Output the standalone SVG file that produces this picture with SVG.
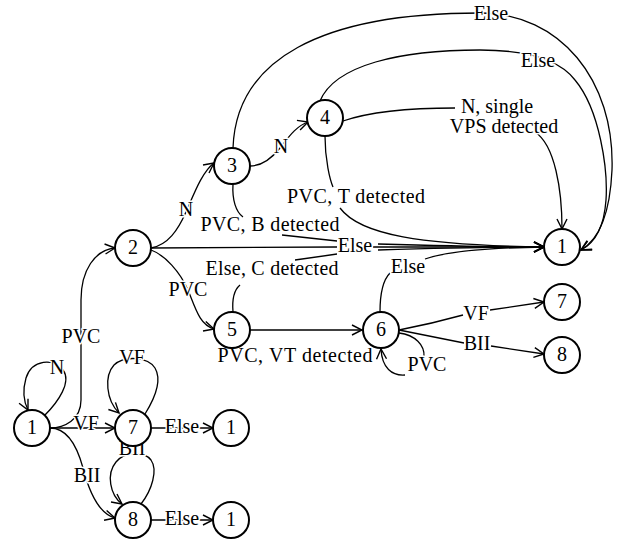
<svg xmlns="http://www.w3.org/2000/svg" width="627" height="541" viewBox="0 0 627 541">
<style>
  .node circle { fill: #fff; stroke: #000; stroke-width: 2; }
  .node text { font-family: "Liberation Serif", "Times New Roman", serif; font-size: 20px; text-anchor: middle; fill: #000; }
  .edges path { fill: none; stroke: #000; stroke-width: 1.3; }
  .lbl { font-family: "Liberation Serif", "Times New Roman", serif; font-size: 20px; text-anchor: middle; fill: #000; paint-order: stroke; stroke: #fff; stroke-width: 3px; stroke-linejoin: round; }
  .arr { marker-end: url(#ah); }
</style>
<defs>
  <marker id="ah" viewBox="0 0 12 12" refX="11" refY="6" markerWidth="12" markerHeight="12" markerUnits="userSpaceOnUse" orient="auto">
    <path d="M1,1 L11,6 L1,11" fill="none" stroke="#000" stroke-width="1.4"/>
  </marker>
</defs>

<g class="edges" id="connectors">
  <g id="e-1-1">
    <path class="arr" d="M45,415 C58,402 72,382 63,370 C54,358 32,359 26,378 C22,392 24,402 28,410"/>
    <text class="lbl" x="57" y="374">N</text>
  </g>
  <g id="e-1-2">
    <path class="arr" d="M50,428 C64,428 81,420 81,400 L81,300 C81,270 95,250 115,248"/>
    <text class="lbl" x="81" y="343">PVC</text>
  </g>
  <g id="e-1-7">
    <path class="arr" d="M50,428 L115,428"/>
    <text class="lbl" x="86" y="430">VF</text>
  </g>
  <g id="e-1-8">
    <path class="arr" d="M50,428 C65,428 76,442 83,468 C90,495 100,514 115,518"/>
    <text class="lbl" x="87" y="482">BII</text>
  </g>
  <g id="e-7-7">
    <path class="arr" d="M145,414 C155,398 162,380 155,368 C148,357 125,355 114,365 C104,376 106,400 119,413"/>
    <text class="lbl" x="132" y="364">VF</text>
  </g>
  <g id="e-7-1">
    <path class="arr" d="M151,428 L213,428"/>
    <text class="lbl" x="182" y="433">Else</text>
  </g>
  <g id="e-8-8">
    <path class="arr" d="M141,504 C152,490 158,470 151,460 C144,451 125,451 116,462 C106,474 110,495 122,504"/>
    <text class="lbl" x="132" y="455">BII</text>
  </g>
  <g id="e-8-1">
    <path class="arr" d="M151,520 L213,520"/>
    <text class="lbl" x="182" y="525">Else</text>
  </g>
  <g id="e-2-3">
    <path class="arr" d="M151,248 C168,245 178,230 186,212 C194,194 202,172 214,163"/>
    <text class="lbl" x="186" y="216">N</text>
  </g>
  <g id="e-2-5">
    <path class="arr" d="M151,250 C165,255 180,272 188,290 C196,310 200,325 214,329"/>
    <text class="lbl" x="188" y="296">PVC</text>
  </g>
  <g id="e-2-1">
    <path d="M151,248 L337,247"/>
    <path class="arr" d="M373,247 L544,247"/>
    <text class="lbl" x="355" y="252">Else</text>
  </g>
  <g id="e-3-4">
    <path class="arr" d="M250,166 C262,166 272,158 280,148 C288,138 296,126 308,122"/>
    <text class="lbl" x="281" y="153">N</text>
  </g>
  <g id="e-3-1-else">
    <path class="arr" d="M233,148 C236,60 320,13 480,13 C560,13 615,80 612,170 C610,215 598,240 581,250"/>
    <text class="lbl" x="491" y="20">Else</text>
  </g>
  <g id="e-4-1-else">
    <path class="arr" d="M320,101 C335,65 400,50 480,50 C530,50 560,60 575,80 C600,110 608,170 606,200 C604,228 595,243 581,250"/>
    <text class="lbl" x="538" y="67">Else</text>
  </g>
  <g id="e-4-1-n">
    <path d="M343,121 C375,110 420,108 455,108"/>
    <path class="arr" d="M535,132 C555,145 562,190 562,229"/>
    <text class="lbl" x="497" y="113">N, single</text>
    <text class="lbl" x="504" y="133">VPS detected</text>
  </g>
  <g id="e-4-1-pvc">
    <path d="M325,136 C325,160 330,180 333,187"/>
    <path class="arr" d="M340,208 C360,235 420,245 544,247"/>
    <text class="lbl" x="356" y="203" textLength="138" lengthAdjust="spacing">PVC, T detected</text>
  </g>
  <g id="e-3-1-pvc">
    <path d="M233,184 C232,200 236,212 243,217"/>
    <path d="M282,235 L337,241"/>
    <path class="arr" d="M378,244 C450,246 500,247 544,247"/>
    <text class="lbl" x="270" y="231" textLength="139" lengthAdjust="spacing">PVC, B detected</text>
  </g>
  <g id="e-5-1">
    <path d="M233,312 C232,300 234,290 240,285"/>
    <path d="M295,260 L337,254"/>
    <path class="arr" d="M378,250 C450,248 500,247 544,247"/>
    <text class="lbl" x="272" y="275" textLength="133" lengthAdjust="spacing">Else, C detected</text>
  </g>
  <g id="e-6-1">
    <path d="M380,312 C380,295 383,280 390,273"/>
    <path class="arr" d="M425,259 C445,252 480,248 544,247"/>
    <text class="lbl" x="408" y="273">Else</text>
  </g>
  <g id="e-5-6">
    <path class="arr" d="M250,330 L362,330"/>
    <text class="lbl" x="295" y="362" textLength="155" lengthAdjust="spacing">PVC, VT detected</text>
  </g>
  <g id="e-6-6">
    <path d="M399,333 C415,335 425,345 424,357"/>
    <path class="arr" d="M405,375 C392,376 382,368 381,349"/>
    <text class="lbl" x="427" y="371">PVC</text>
  </g>
  <g id="e-6-7">
    <path d="M399,330 C425,325 445,320 463,315"/>
    <path class="arr" d="M490,310 L544,302"/>
    <text class="lbl" x="476" y="320">VF</text>
  </g>
  <g id="e-6-8">
    <path d="M399,330 C425,335 450,340 464,343"/>
    <path class="arr" d="M491,346 L544,354"/>
    <text class="lbl" x="477" y="350">BII</text>
  </g>
</g>

<g class="node" id="n1-start"><circle cx="32" cy="428" r="18"/><text x="32" y="434">1</text></g>
<g class="node" id="n7-left"><circle cx="133" cy="428" r="18"/><text x="133" y="434">7</text></g>
<g class="node" id="n1-after7"><circle cx="231" cy="428" r="18"/><text x="231" y="434">1</text></g>
<g class="node" id="n8-left"><circle cx="133" cy="520" r="18"/><text x="133" y="526">8</text></g>
<g class="node" id="n1-after8"><circle cx="231" cy="520" r="18"/><text x="231" y="526">1</text></g>
<g class="node" id="n2"><circle cx="133" cy="248" r="18"/><text x="133" y="254">2</text></g>
<g class="node" id="n3"><circle cx="232" cy="166" r="18"/><text x="232" y="172">3</text></g>
<g class="node" id="n4"><circle cx="325" cy="118" r="18"/><text x="325" y="124">4</text></g>
<g class="node" id="n5"><circle cx="232" cy="330" r="18"/><text x="232" y="336">5</text></g>
<g class="node" id="n6"><circle cx="381" cy="330" r="18"/><text x="381" y="336">6</text></g>
<g class="node" id="n1-big"><circle cx="562" cy="247" r="18"/><text x="562" y="253">1</text></g>
<g class="node" id="n7-right"><circle cx="562" cy="302" r="18"/><text x="562" y="308">7</text></g>
<g class="node" id="n8-right"><circle cx="562" cy="355" r="18"/><text x="562" y="361">8</text></g>
</svg>
